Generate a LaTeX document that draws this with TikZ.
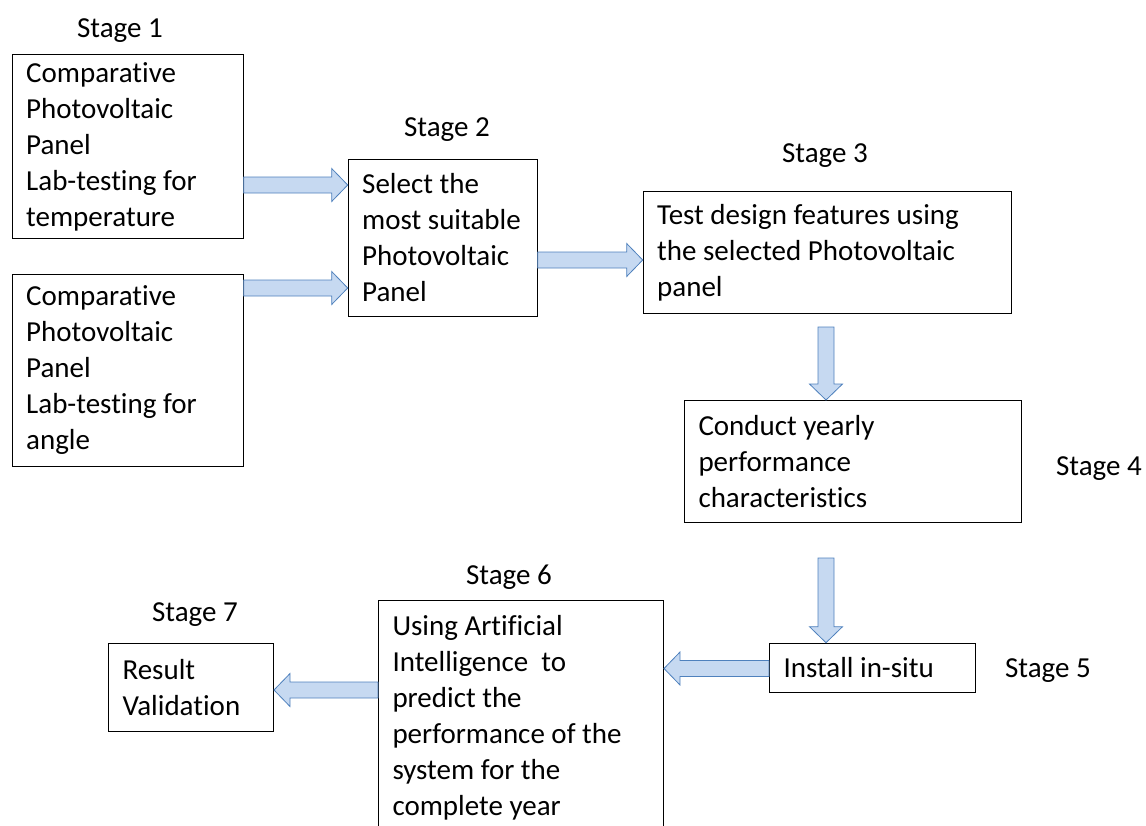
\documentclass[tikz,border=0pt]{standalone}
\usepackage{fontspec}
\setmainfont{Carlito}[Ligatures=NoCommon]
\usetikzlibrary{calc}
\definecolor{arrowfill}{RGB}{198,217,241}
\definecolor{arrowline}{RGB}{79,129,189}
\tikzset{
  stagebox/.style={draw,line width=1pt,anchor=north west,align=flush left,
    inner xsep=14pt,inner ysep=0pt,font=\fontsize{29}{36}\selectfont},
  stagelabel/.style={anchor=base,inner sep=0pt,font=\fontsize{29}{36}\selectfont},
  blockarrow/.style={draw=arrowline,fill=arrowfill,line width=0.8pt,
    to path={let \p1=(\tikztostart), \p2=(\tikztotarget),
      \p3=($(\p2)!16pt!(\p1)$) in
      ($(\p1)!8pt!90:(\p2)$) -- ($(\p3)!8pt!-90:(\p1)$) -- ($(\p3)!16.5pt!-90:(\p1)$)
      -- (\p2) -- ($(\p3)!16.5pt!90:(\p1)$) -- ($(\p3)!8pt!90:(\p1)$)
      -- ($(\p1)!8pt!-90:(\p2)$) -- cycle}}
}
\begin{document}
\begin{tikzpicture}[x=1pt,y=-1pt]
	\useasboundingbox (0,0) rectangle (1146,825);
	% boxes
	\node[stagebox,minimum width=231pt,minimum height=184pt,text width=203pt] (cmptemp) at (11.7,54)
		{Comparative\\Photovoltaic\\Panel\\Lab-testing for\\temperature};
	\node[stagebox,minimum width=231pt,minimum height=192pt,text width=203pt] (cmpangle) at (11.7,274)
		{Comparative\\Photovoltaic\\Panel\\Lab-testing for\\angle};
	\node[stagebox,minimum width=189pt,minimum height=157pt,text width=161pt] (select) at (347.7,159)
		{Select the\\most suitable\\Photovoltaic\\Panel};
	\node[stagebox,minimum width=368pt,minimum height=122pt,text width=340pt] (testdesign) at (642.7,191)
		{Test design features using\\the selected Photovoltaic\\panel};
	\node[stagebox,minimum width=337pt,minimum height=122pt,text width=309pt] (yearly) at (684,400)
		{Conduct yearly\\performance\\characteristics};
	\node[stagebox,minimum width=206pt,minimum height=49pt,text width=178pt] (insitu) at (769,642.7)
		{Install in-situ};
	\node[stagebox,minimum width=285pt,minimum height=235pt,text width=257pt] (predict) at (378,600)
		{Using Artificial\\Intelligence \ to\\predict the\\performance of the\\system for the\\complete year};
	\node[stagebox,minimum width=165pt,minimum height=88pt,text width=137pt] (validation) at (108,643)
		{Result\\Validation};
	% stage labels
	\node[stagelabel] (st1) at (120,37) {Stage 1};
	\node[stagelabel] (st2) at (447,136) {Stage 2};
	\node[stagelabel] (st3) at (825,162) {Stage 3};
	\node[stagelabel] (st4) at (1099,475) {Stage 4};
	\node[stagelabel] (st5) at (1048,677) {Stage 5};
	\node[stagelabel] (st6) at (509,584) {Stage 6};
	\node[stagelabel] (st7) at (195,621) {Stage 7};
	% arrows
	\coordinate (dnone) at (826,327);
	\coordinate (dntwo) at (826,558);
	\draw[blockarrow] (cmptemp.east |- 0,185) to (select.west |- 0,185);
	\draw[blockarrow] (cmpangle.east |- 0,288) to (select.west |- 0,288);
	\draw[blockarrow] (select.east |- 0,260) to (testdesign.west |- 0,260);
	\draw[blockarrow] (dnone) to (dnone |- yearly.north);
	\draw[blockarrow] (dntwo) to (dntwo |- insitu.north);
	\draw[blockarrow] (insitu.west |- 0,668.5) to (predict.east |- 0,668.5);
	\draw[blockarrow] (predict.west |- 0,690) to (validation.east |- 0,690);
\end{tikzpicture}
\end{document}
